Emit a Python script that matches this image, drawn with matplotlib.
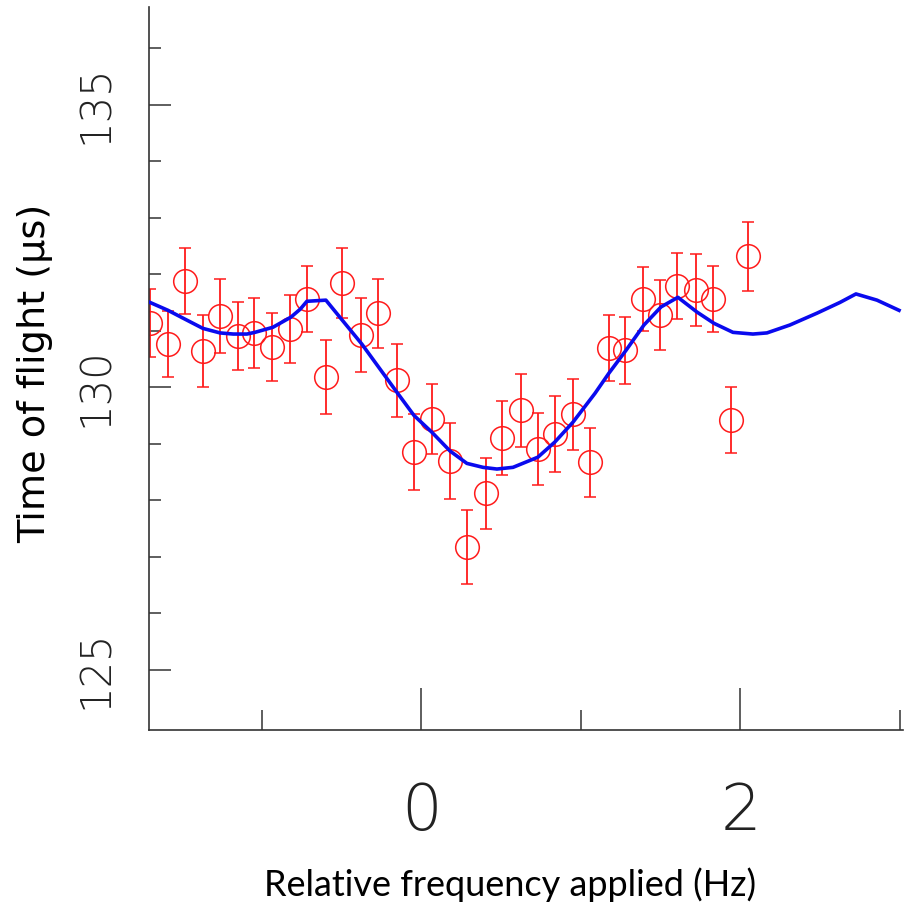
import matplotlib
matplotlib.use("Agg")
import matplotlib.pyplot as plt
from matplotlib.ticker import FixedLocator

# ---- data ----
freq = [-1.702, -1.589, -1.483, -1.370, -1.263, -1.150, -1.047, -0.934, -0.821, -0.715,
        -0.596, -0.495, -0.376, -0.270, -0.154, -0.047, 0.066, 0.179, 0.285, 0.404,
        0.505, 0.624, 0.730, 0.837, 0.950, 1.056, 1.176, 1.279, 1.392, 1.498,
        1.602, 1.721, 1.828, 1.940, 2.047]
tof = [131.13, 130.76, 131.88, 130.64, 131.26, 130.90, 130.96, 130.71, 131.03, 131.56,
       130.18, 131.84, 130.92, 131.31, 130.12, 128.85, 129.43, 128.69, 127.17, 128.12,
       129.10, 129.59, 128.90, 129.17, 129.52, 128.67, 130.69, 130.65, 131.56, 131.27,
       131.79, 131.72, 131.56, 129.42, 132.32]
tof_err = [0.60, 0.58, 0.58, 0.63, 0.65, 0.60, 0.62, 0.60, 0.60, 0.59,
           0.65, 0.62, 0.65, 0.61, 0.65, 0.67, 0.62, 0.67, 0.65, 0.63,
           0.65, 0.65, 0.64, 0.67, 0.63, 0.61, 0.58, 0.59, 0.57, 0.62,
           0.58, 0.64, 0.58, 0.59, 0.61]

fit_freq = [-1.702, -1.589, -1.480, -1.370, -1.263, -1.180, -1.094, -1.044, -0.931, -0.818,
            -0.760, -0.718, -0.599, -0.373, -0.154, -0.047, 0.066, 0.179, 0.285, 0.386,
            0.473, 0.574, 0.730, 0.837, 0.950, 1.088, 1.176, 1.282, 1.395, 1.502,
            1.608, 1.727, 1.834, 1.953, 2.078, 2.166, 2.310, 2.480, 2.624, 2.724,
            2.856, 2.994]
fit_tof = [131.50, 131.36, 131.20, 131.04, 130.96, 130.94, 130.94, 130.97, 131.06, 131.24,
           131.38, 131.52, 131.54, 130.76, 129.91, 129.50, 129.20, 128.87, 128.65, 128.58,
           128.55, 128.58, 128.76, 129.03, 129.38, 129.89, 130.25, 130.65, 131.10, 131.42,
           131.59, 131.33, 131.13, 130.97, 130.94, 130.96, 131.10, 131.31, 131.50, 131.65,
           131.54, 131.36]

y_major = [125, 130, 135]
y_major_labels = ["125", "130", "135"]
y_minor = [126, 127, 128, 129, 131, 132, 133, 134, 136]
x_major = [0, 2]
x_major_labels = ["0", "2"]
x_minor = [-1, 1, 3]

# ---- figure ----
fig = plt.figure(figsize=(9.13, 9.09), dpi=100)
ax = fig.add_axes([149/913, 1 - 730/909, 754/913, 723/909])

ax.errorbar(freq, tof, yerr=tof_err, fmt='o', color='#ff1a1a', mfc='none', mec='#ff1a1a',
            ms=17, mew=1.1, elinewidth=1.3, capsize=4, capthick=1.3, zorder=2)
ax.plot(fit_freq, fit_tof, color='#0a0aee', lw=2.6, zorder=3)

ax.set_xlim(-1.708, 3.019)
ax.set_ylim(123.93, 136.73)

for s in ['top', 'right']:
    ax.spines[s].set_visible(False)
for s in ['left', 'bottom']:
    ax.spines[s].set_linewidth(1.2)
    ax.spines[s].set_color('#333333')

tick_font = ['Liberation Sans Narrow', 'DejaVu Sans']
ax.yaxis.set_major_locator(FixedLocator(y_major))
ax.yaxis.set_minor_locator(FixedLocator(y_minor))
ax.set_yticklabels(y_major_labels, rotation=90, va='center', ha='right',
                   fontsize=30, fontweight='light', family=tick_font, color='#222222')
ax.xaxis.set_major_locator(FixedLocator(x_major))
ax.xaxis.set_minor_locator(FixedLocator(x_minor))
ax.set_xticklabels(x_major_labels, fontsize=46, fontweight='light', family=tick_font,
                   color='#222222')

ax.tick_params(axis='y', which='major', direction='in', length=16, width=1.1,
               color='#333333', pad=24)
ax.tick_params(axis='y', which='minor', direction='in', length=8.6, width=1.1,
               color='#333333')
ax.tick_params(axis='x', which='major', direction='in', length=30, width=1.1,
               color='#333333', pad=37)
ax.tick_params(axis='x', which='minor', direction='in', length=14.4, width=1.1,
               color='#333333')

fig.text(510/913, 1 - 885/909, "Relative frequency applied (Hz)", ha='center', va='center',
         fontsize=26, family=['Lato', 'DejaVu Sans'], color='black')
fig.text(35/913, 1 - 373/909, "Time of flight (\u00b5s)", ha='center', va='center',
         rotation=90, fontsize=27.5, family=['DejaVu Sans'], color='black')

fig.savefig("out.png", dpi=100)
